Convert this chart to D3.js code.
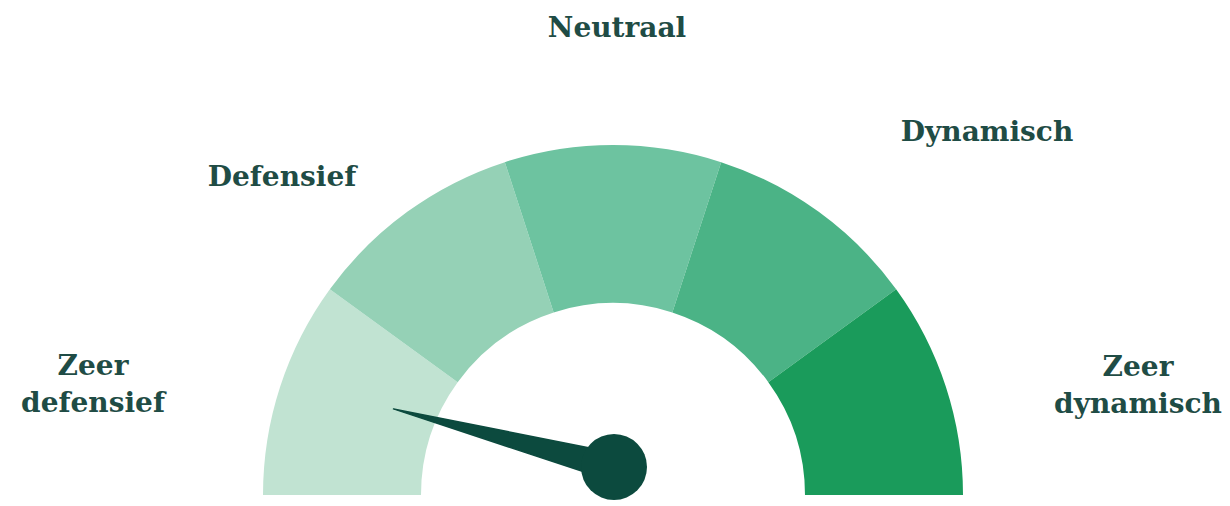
<!DOCTYPE html>
<html>
<head>
<meta charset="utf-8">
<script src="https://cdn.jsdelivr.net/npm/d3@7"></script>
<style>
  body { margin: 0; background: #fff; }
  svg { display: block; }
</style>
</head>
<body>
<svg id="chart"></svg>
<script>
var categories = ["Zeer defensief", "Defensief", "Neutraal", "Dynamisch", "Zeer dynamisch"];
var segmentColors = ["#c1e3d2", "#95d1b6", "#6dc3a0", "#4bb386", "#1a9b5b"];
var needleValue = 8.2; // 0..100, left to right

var width = 1230,
    height = 506,
    cx = 613,
    cy = 495,
    outerR = 350,
    innerR = 192;

var svg = d3.select("#chart")
    .attr("width", width)
    .attr("height", height);

// angle scale across the half circle, in radians (d3.arc: 0 = up, clockwise)
var angle = d3.scaleLinear()
    .domain([0, categories.length])
    .range([-Math.PI / 2, Math.PI / 2]);

var valueAngle = d3.scaleLinear()
    .domain([0, 100])
    .range([-Math.PI / 2, Math.PI / 2]);

var arc = d3.arc()
    .innerRadius(innerR)
    .outerRadius(outerR);

var gauge = svg.append("g")
    .attr("transform", "translate(" + cx + "," + cy + ")");

gauge.selectAll("path.seg")
    .data(categories)
    .enter().append("path")
    .attr("class", "seg")
    .attr("fill", function(d, i) { return segmentColors[i]; })
    .attr("d", function(d, i) {
        return arc({ startAngle: angle(i), endAngle: angle(i + 1) });
    });

// labels
var labels = [
    { lines: ["Zeer", "defensief"], x: 93, y: 375 },
    { lines: ["Defensief"], x: 282, y: 186 },
    { lines: ["Neutraal"], x: 617, y: 37 },
    { lines: ["Dynamisch"], x: 987, y: 141 },
    { lines: ["Zeer", "dynamisch"], x: 1138, y: 376 }
];

var text = svg.selectAll("text.label")
    .data(labels)
    .enter().append("text")
    .attr("class", "label")
    .attr("text-anchor", "middle")
    .attr("font-family", "'DejaVu Serif', serif")
    .attr("font-weight", "bold")
    .attr("font-size", 28)
    .attr("fill", "#1f4c45");

text.selectAll("tspan")
    .data(function(d) { return d.lines.map(function(l, i) { return { t: l, x: d.x, y: d.y + i * 37 }; }); })
    .enter().append("tspan")
    .attr("x", function(d) { return d.x; })
    .attr("y", function(d) { return d.y; })
    .text(function(d) { return d.t; });

// needle
var hubX = 614, hubY = 467, hubR = 33, needleLen = 228, needleHalf = 14;
var a = valueAngle(needleValue); // 0 = up
var dirX = Math.sin(a), dirY = -Math.cos(a);
var perpX = -dirY, perpY = dirX;

var needle = svg.append("g").attr("fill", "#0c4a3e");
needle.append("path")
    .attr("stroke", "#0c4a3e")
    .attr("stroke-width", 1.5)
    .attr("stroke-linejoin", "round")
    .attr("d", d3.line()([
        [hubX + perpX * needleHalf, hubY + perpY * needleHalf],
        [hubX + dirX * needleLen, hubY + dirY * needleLen],
        [hubX - perpX * needleHalf, hubY - perpY * needleHalf]
    ]) + "Z");
needle.append("circle")
    .attr("cx", hubX)
    .attr("cy", hubY)
    .attr("r", hubR);
</script>
</body>
</html>
